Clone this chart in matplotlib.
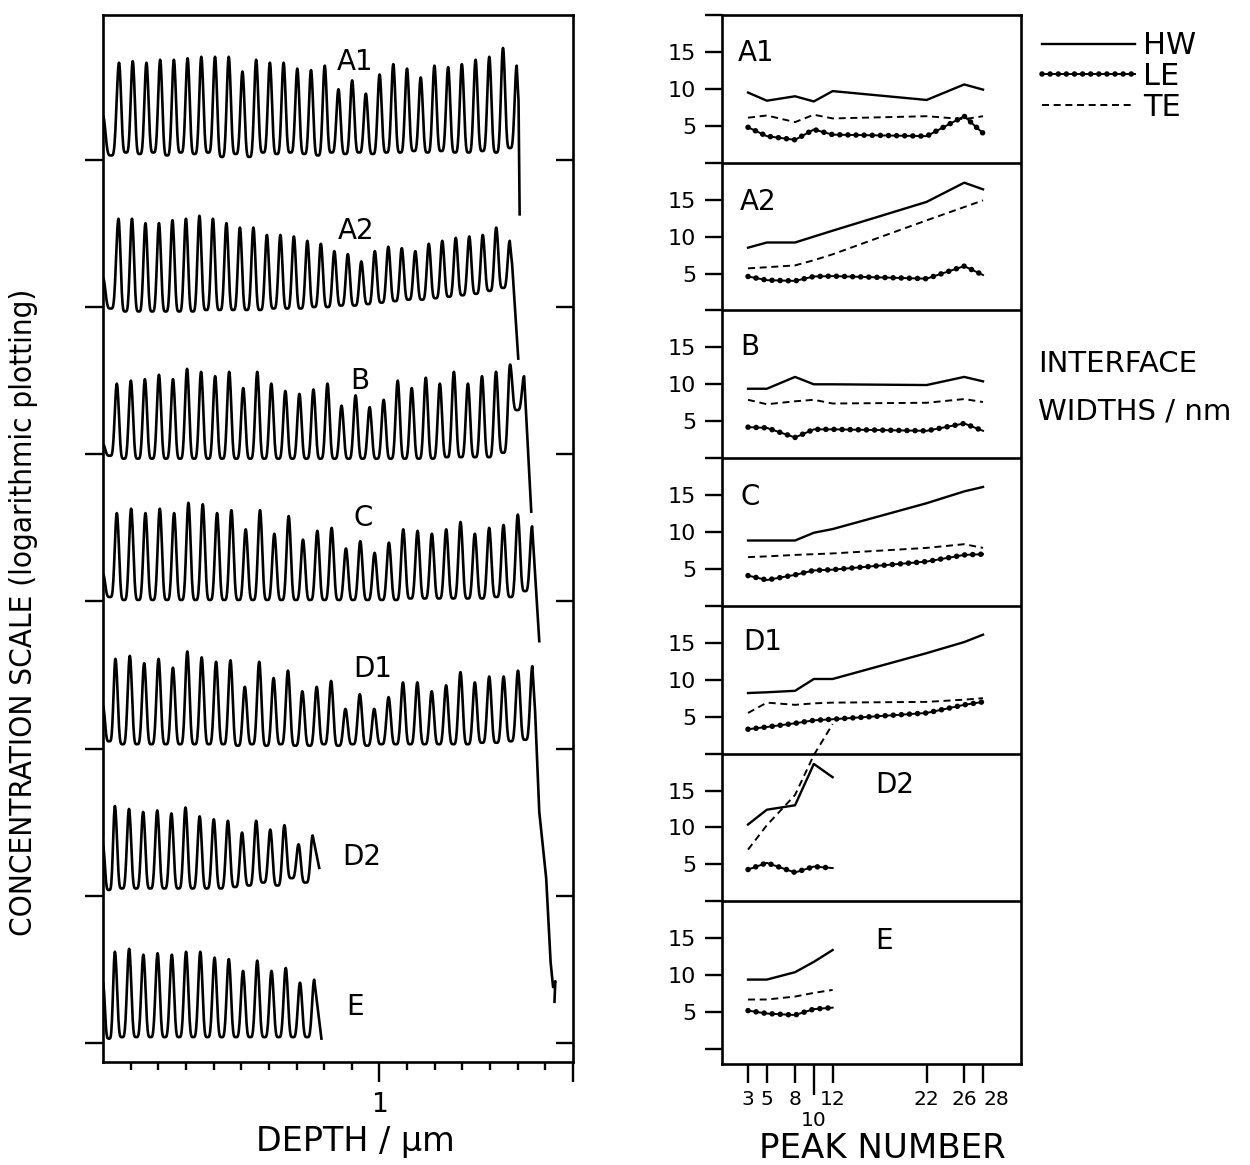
import numpy as np
import matplotlib.pyplot as plt
from matplotlib.legend_handler import HandlerTuple

plt.rcParams['font.family'] = ['DejaVu Sans']

##### depth profiles (left) #####
trace_names = ['A1', 'A2', 'B', 'C', 'D1', 'D2', 'E']
trace_base = [6, 5, 4, 3, 2, 1, 0]
first_peak = [0.058, 0.056, 0.050, 0.050, 0.045, 0.043, 0.043]   # um
period = [0.0496, 0.0488, 0.0508, 0.0518, 0.0520, 0.0511, 0.0515]  # um
start_level = [0.30, 0.20, 0.07, 0.19, 0.29, 0.34, 0.41]

peaks_A1 = [0.66, 0.67, 0.66, 0.68, 0.68, 0.69, 0.70, 0.70, 0.70, 0.60, 0.68, 0.66, 0.66, 0.62, 0.61,
            0.64, 0.48, 0.54, 0.45, 0.58, 0.65, 0.62, 0.56, 0.64, 0.63, 0.65, 0.68, 0.70, 0.76, 0.64]
peaks_A2 = [0.60, 0.60, 0.57, 0.57, 0.59, 0.60, 0.62, 0.60, 0.57, 0.54, 0.54, 0.49, 0.49, 0.48, 0.45,
            0.43, 0.38, 0.36, 0.31, 0.38, 0.41, 0.40, 0.38, 0.43, 0.45, 0.47, 0.48, 0.49, 0.54, 0.45]
peaks_B = [0.48, 0.50, 0.51, 0.54, 0.51, 0.58, 0.56, 0.53, 0.56, 0.45, 0.56, 0.48, 0.43, 0.41, 0.44,
           0.48, 0.33, 0.40, 0.32, 0.37, 0.50, 0.45, 0.52, 0.48, 0.56, 0.48, 0.53, 0.56, 0.61, 0.53]
peaks_C = [0.60, 0.63, 0.60, 0.63, 0.60, 0.67, 0.66, 0.60, 0.62, 0.49, 0.62, 0.46, 0.58, 0.42, 0.48,
           0.50, 0.36, 0.41, 0.33, 0.40, 0.49, 0.48, 0.46, 0.49, 0.54, 0.46, 0.50, 0.52, 0.59, 0.51]
peaks_D1 = [0.61, 0.63, 0.58, 0.61, 0.55, 0.66, 0.62, 0.59, 0.60, 0.42, 0.59, 0.48, 0.53, 0.39, 0.42,
            0.46, 0.27, 0.37, 0.27, 0.35, 0.45, 0.45, 0.39, 0.43, 0.52, 0.45, 0.49, 0.49, 0.53, 0.56]
peaks_D2 = [0.61, 0.59, 0.57, 0.58, 0.56, 0.60, 0.54, 0.52, 0.51, 0.43, 0.51, 0.45, 0.48, 0.35, 0.41]
peaks_E = [0.62, 0.64, 0.60, 0.61, 0.60, 0.62, 0.62, 0.58, 0.57, 0.49, 0.56, 0.49, 0.51, 0.41, 0.43]

# valley level before each peak
valleys_A1 = [0.03, 0.05, 0.04, 0.05, 0.03, 0.05, 0.04, 0.05, 0.02, 0.04, 0.02, 0.05, 0.04, 0.05, 0.04,
              0.03, 0.05, 0.04, 0.05, 0.04, 0.05, 0.05, 0.06, 0.05, 0.06, 0.05, 0.05, 0.06, 0.05, 0.08]
valleys_A2 = [-0.01, -0.03, -0.03, -0.03, -0.03, -0.03, -0.03, -0.02, -0.02, -0.02, -0.02, -0.02, -0.01, -0.01, -0.01,
              0.00, 0.00, 0.01, 0.01, 0.02, 0.03, 0.04, 0.05, 0.05, 0.06, 0.07, 0.08, 0.09, 0.11, 0.13]
valleys_B = [-0.01, -0.03, -0.03, -0.03, -0.03, -0.03, -0.03, -0.03, -0.03, -0.03, -0.03, -0.03, -0.03, -0.03, -0.03,
             -0.03, -0.03, -0.03, -0.03, -0.03, -0.03, -0.03, -0.03, -0.03, -0.02, -0.02, -0.02, -0.02, 0.01, 0.30]
valleys_C = [0.03, 0.01, 0.01, 0.01, 0.01, 0.01, 0.01, 0.01, 0.01, 0.01, 0.01, 0.01, 0.01, 0.01, 0.01,
             0.01, 0.01, 0.01, 0.01, 0.01, 0.01, 0.02, 0.02, 0.02, 0.02, 0.02, 0.02, 0.03, 0.03, 0.07]
valleys_D1 = [0.05, 0.03, 0.03, 0.03, 0.03, 0.03, 0.03, 0.03, 0.03, 0.02, 0.03, 0.02, 0.03, 0.02, 0.02,
              0.03, 0.02, 0.03, 0.02, 0.03, 0.03, 0.03, 0.03, 0.03, 0.03, 0.03, 0.04, 0.04, 0.05, 0.06]
valleys_D2 = [0.04, 0.05, 0.05, 0.05, 0.05, 0.05, 0.05, 0.05, 0.05, 0.06, 0.07, 0.09, 0.07, 0.12, 0.09]
valleys_E = [0.03, 0.04, 0.04, 0.04, 0.04, 0.04, 0.04, 0.04, 0.04, 0.04, 0.04, 0.04, 0.04, 0.04, 0.04]

# end of each profile after the last peak (depth, level)
tail_x_A1 = [1.503, 1.507]
tail_y_A1 = [0.40, -0.37]
tail_x_A2 = [1.480, 1.502]
tail_y_A2 = [0.285, -0.35]
tail_x_B = [1.549]
tail_y_B = [-0.39]
tail_x_C = [1.578]
tail_y_C = [-0.27]
tail_x_D1 = [1.563, 1.578, 1.603, 1.619, 1.628, 1.636, 1.633]
tail_y_D1 = [0.25, -0.43, -0.88, -1.45, -1.62, -1.58, -1.72]
tail_x_D2 = [0.782]
tail_y_D2 = [0.19]
tail_x_E = [0.790]
tail_y_E = [0.03]

label_x = [0.913, 0.917, 0.928, 0.942, 0.975, 0.935, 0.910]
label_y = [6.665, 5.52, 4.50, 3.57, 2.54, 1.264, 0.245]

##### interface widths (right) #####
peak_no = [3, 5, 8, 10, 12, 22, 26, 28]
hw_A1 = [9.5, 8.4, 9.0, 8.3, 9.7, 8.5, 10.6, 9.9]
le_A1 = [4.8, 3.6, 3.1, 4.5, 3.8, 3.6, 6.3, 4.0]
te_A1 = [6.1, 6.4, 5.5, 6.5, 6.0, 6.3, 5.9, 6.3]
hw_A2 = [8.5, 9.2, 9.2, 10.0, 10.8, 14.7, 17.3, 16.4]
le_A2 = [4.6, 4.1, 4.0, 4.6, 4.65, 4.3, 6.0, 4.8]
te_A2 = [5.7, 5.85, 6.1, 6.8, 7.6, 12.2, 14.0, 14.9]
hw_B = [9.4, 9.4, 11.0, 10.0, 10.0, 9.9, 11.0, 10.4]
le_B = [4.2, 4.1, 2.8, 3.9, 3.9, 3.7, 4.7, 3.7]
te_B = [7.9, 7.3, 7.7, 7.9, 7.4, 7.5, 8.0, 7.6]
hw_C = [8.85, 8.85, 8.85, 9.9, 10.4, 13.9, 15.5, 16.1]
le_C = [4.1, 3.5, 4.2, 4.8, 4.9, 6.0, 6.9, 7.0]
te_C = [6.6, 6.7, 6.9, 7.0, 7.1, 7.85, 8.35, 7.85]
hw_D1 = [8.2, 8.3, 8.5, 10.1, 10.1, 13.6, 15.1, 16.1]
le_D1 = [3.3, 3.6, 4.1, 4.5, 4.65, 5.5, 6.6, 7.0]
te_D1 = [5.5, 6.9, 6.6, 6.8, 6.9, 7.0, 7.3, 7.5]
hw_D2 = [10.4, 12.4, 13.0, 18.6, 16.8]
le_D2 = [4.3, 5.2, 3.9, 4.7, 4.5]
te_D2 = [7.0, 10.3, 14.4, 19.8, 24.0]
hw_E = [9.4, 9.4, 10.4, 11.8, 13.4]
le_E = [5.2, 4.8, 4.6, 5.4, 5.6]
te_E = [6.7, 6.7, 7.1, 7.6, 8.0]

panel_offset = [120, 100, 80, 60, 40, 20, 0]
panel_label_x = [1.94, 2.15, 2.15, 2.15, 2.47, 16.5, 16.5]
panel_label_y = [14.85, 14.7, 15.0, 14.7, 15.1, 15.7, 14.6]

x_ticks_right = [3, 5, 8, 12, 22, 26, 28]


def profile(x0, per, start, peaks, valleys, tail_x, tail_y):
    # sharp-peaked periodic trace through the read-off peak and valley levels
    px = [0.0] + [x0 + i * per for i in range(len(peaks))]
    ph = [start] + list(peaks)
    t = np.linspace(0, 1, 41)[:-1]
    g = ((1 + np.cos(2 * np.pi * t)) / 2) ** 2.3
    xs, ys = [], []
    for i in range(len(peaks)):
        v = valleys[i]
        amp = np.where(t < 0.5, ph[i] - v, ph[i + 1] - v)
        xs.append(px[i] + t * (px[i + 1] - px[i]))
        ys.append(v + amp * g)
    xs.append([px[-1]])
    ys.append([ph[-1]])
    return np.concatenate(xs + [tail_x]), np.concatenate(ys + [tail_y])


fig = plt.figure(figsize=(12.5, 11.65), dpi=100)

# left panel
ax = fig.add_axes([0.0824, 0.0884, 0.376, 0.8987])
peaks_all = [peaks_A1, peaks_A2, peaks_B, peaks_C, peaks_D1, peaks_D2, peaks_E]
valleys_all = [valleys_A1, valleys_A2, valleys_B, valleys_C, valleys_D1, valleys_D2, valleys_E]
tails_x = [tail_x_A1, tail_x_A2, tail_x_B, tail_x_C, tail_x_D1, tail_x_D2, tail_x_E]
tails_y = [tail_y_A1, tail_y_A2, tail_y_B, tail_y_C, tail_y_D1, tail_y_D2, tail_y_E]
for i, name in enumerate(trace_names):
    xx, yy = profile(first_peak[i], period[i], start_level[i], peaks_all[i],
                     valleys_all[i], tails_x[i], tails_y[i])
    ax.plot(xx, yy + trace_base[i], color='k', lw=1.9)
    ax.text(label_x[i], label_y[i], name, fontsize=20, ha='center', va='center')

ax.set_xlim(0, 1.7)
ax.set_ylim(-0.129, 6.984)
ax.set_xticks([1.0, 1.7], labels=['1', ''])
ax.set_xticks([0.1, 0.2, 0.3, 0.4, 0.5, 0.6, 0.7, 0.8, 0.9,
               1.1, 1.2, 1.3, 1.4, 1.5, 1.6], minor=True)
ax.tick_params(axis='x', which='major', direction='out', length=14.5, width=1.7,
               labelsize=19, pad=7)
ax.tick_params(axis='x', which='minor', direction='out', length=6, width=1.7)
ax.set_yticks(trace_base, labels=[''] * 7)
ax.tick_params(axis='y', direction='out', length=13, width=1.7)
for s in ax.spines.values():
    s.set_linewidth(1.9)
axr = ax.twinx()
axr.set_ylim(ax.get_ylim())
axr.set_yticks(trace_base, labels=[''] * 7)
axr.tick_params(axis='y', direction='in', length=12, width=1.7)
for s in axr.spines.values():
    s.set_visible(False)

fig.text(0.284, 1 - 1142 / 1165, 'DEPTH / \u00b5m', fontsize=24, ha='center', va='center')
fig.text(0.019, 1 - 612 / 1165, 'CONCENTRATION SCALE (logarithmic plotting)',
         fontsize=22.5, rotation=90, ha='center', va='center', fontstretch='condensed')

# right panel
ax2 = fig.add_axes([0.5776, 0.0867, 0.2392, 0.9004])
hw_all = [hw_A1, hw_A2, hw_B, hw_C, hw_D1, hw_D2, hw_E]
le_all = [le_A1, le_A2, le_B, le_C, le_D1, le_D2, le_E]
te_all = [te_A1, te_A2, te_B, te_C, te_D1, te_D2, te_E]
for i, name in enumerate(trace_names):
    off = panel_offset[i]
    xs = peak_no[:len(hw_all[i])]
    h_hw, = ax2.plot(xs, np.array(hw_all[i]) + off, color='k', lw=1.7)
    h_le1, = ax2.plot(xs, np.array(le_all[i]) + off, color='k', lw=1.4)
    h_le2, = ax2.plot(xs, np.array(le_all[i]) + off, color='k', lw=4,
                      linestyle=(0, (0.01, 1.45)), dash_capstyle='round')
    h_te, = ax2.plot(xs, np.array(te_all[i]) + off, color='k', lw=1.4,
                     linestyle=(0, (3.6, 2.4)))
    ax2.text(panel_label_x[i], panel_label_y[i] + off, name, fontsize=20,
             ha='left', va='center')
for y in panel_offset[:-1]:
    ax2.axhline(y, color='k', lw=1.9)

ax2.set_xlim(0.23, 32.04)
ax2.set_ylim(-2.03, 140)
yt = list(range(0, 141, 5))
ax2.set_yticks(yt, labels=['' if v % 20 == 0 else str(v % 20) for v in yt])
ax2.tick_params(axis='y', direction='out', length=12.5, width=1.7, labelsize=16, pad=6)
ax2.set_xticks(x_ticks_right, labels=[str(v) for v in x_ticks_right])
ax2.set_xticks([10], labels=['10'], minor=True)
ax2.tick_params(axis='x', which='major', direction='out', length=13.7, width=1.7,
                labelsize=14.5, pad=5)
ax2.tick_params(axis='x', which='minor', direction='out', length=22, width=1.7,
                labelsize=14.5, pad=11.8)
ax2.get_xticklabels()[-1].set_horizontalalignment('left')
for s in ax2.spines.values():
    s.set_linewidth(1.9)

fig.text(882 / 1250, 1 - 1149 / 1165, 'PEAK NUMBER', fontsize=24.5, ha='center', va='center')

fig.legend([h_hw, (h_le1, h_le2), h_te], ['HW', 'LE', 'TE'],
           handler_map={tuple: HandlerTuple(ndivide=1)},
           loc='upper left', bbox_to_anchor=(1042 / 1250, 0.973), frameon=False,
           fontsize=22, handlelength=3.05, handletextpad=0.26, labelspacing=0.05,
           borderpad=0, borderaxespad=0)

fig.text(1038 / 1250, 1 - 364 / 1165, 'INTERFACE', fontsize=21, ha='left', va='center')
fig.text(1038 / 1250, 1 - 411 / 1165, 'WIDTHS / nm', fontsize=21, ha='left', va='center')

fig.savefig('out.png', dpi=100)
